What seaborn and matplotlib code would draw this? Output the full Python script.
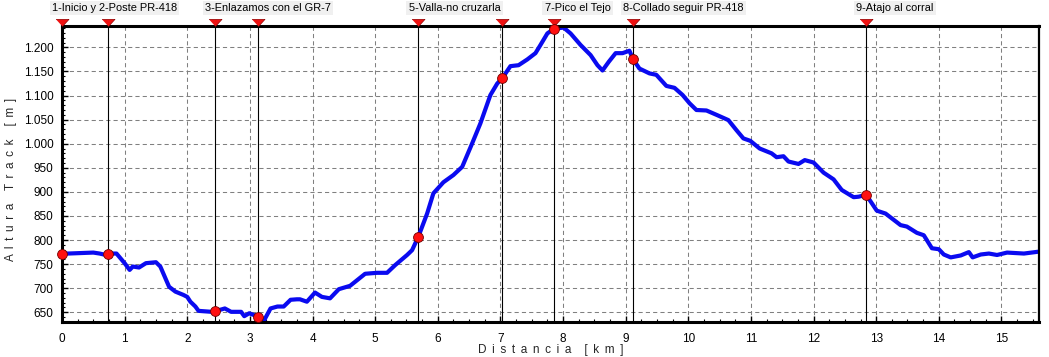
import matplotlib
matplotlib.use("Agg")
import matplotlib.pyplot as plt
import seaborn as sns
import pandas as pd
from matplotlib.ticker import MultipleLocator

# ---- data ----
distance_km = [0, 0.1, 0.3, 0.5, 0.6, 0.7, 0.75, 0.87, 1.0, 1.08, 1.13, 1.23, 1.34, 1.5, 1.57,
               1.71, 1.81, 1.94, 2.0, 2.05, 2.13, 2.18, 2.39, 2.44, 2.6, 2.7, 2.86, 2.91, 2.99,
               3.13, 3.18, 3.23, 3.33, 3.44, 3.54, 3.65, 3.75, 3.8, 3.91, 4.04, 4.15, 4.28,
               4.42, 4.6, 4.84, 5.03, 5.19, 5.32, 5.51, 5.59, 5.69, 5.83, 5.93, 6.09, 6.25,
               6.39, 6.55, 6.68, 6.84, 6.95, 7.03, 7.16, 7.29, 7.43, 7.56, 7.64, 7.75, 7.86,
               8.01, 8.12, 8.28, 8.44, 8.55, 8.63, 8.73, 8.84, 8.95, 9.06, 9.12, 9.22, 9.38,
               9.49, 9.65, 9.78, 9.91, 10.02, 10.13, 10.29, 10.45, 10.64, 10.77, 10.88, 10.99,
               11.14, 11.33, 11.41, 11.52, 11.6, 11.76, 11.86, 12.0, 12.16, 12.32, 12.45,
               12.64, 12.72, 12.84, 13.01, 13.15, 13.39, 13.49, 13.65, 13.76, 13.89, 14.0,
               14.08, 14.19, 14.35, 14.48, 14.54, 14.67, 14.8, 14.93, 15.09, 15.36, 15.6]
altitude_m = [772, 772, 773, 774, 772, 769, 772, 772, 752, 738, 745, 743, 752, 754, 745,
              703, 693, 686, 682, 672, 662, 653, 651, 652, 658, 651, 651, 642, 648,
              641, 633, 634, 658, 662, 662, 676, 677, 677, 672, 691, 682, 679,
              698, 705, 730, 732, 732, 748, 769, 779, 807, 855, 897, 920, 935,
              952, 1001, 1042, 1101, 1125, 1136, 1161, 1163, 1175, 1188, 1205, 1229, 1239,
              1241, 1229, 1205, 1184, 1163, 1152, 1170, 1188, 1188, 1193, 1175, 1156, 1146,
              1143, 1120, 1116, 1101, 1084, 1070, 1069, 1060, 1049, 1028, 1011, 1006,
              990, 980, 972, 974, 963, 958, 966, 961, 940, 926, 904,
              889, 890, 894, 861, 855, 831, 828, 815, 810, 783, 781,
              770, 764, 768, 775, 764, 770, 772, 769, 774, 772, 776]

waypoint_km = [0, 0.74, 2.44, 3.13, 5.69, 7.03, 7.86, 9.12, 12.84]
waypoint_alt = [772, 772, 652, 641, 807, 1136, 1239, 1175, 894]
waypoint_label = ["1-Inicio y", "2-Poste PR-418", "3-Enlazamos con el GR-7", "",
                  "5-Valla-no cruzarla", "", "7-Pico el Tejo", "8-Collado seguir PR-418",
                  "9-Atajo al corral"]

x_ticks = list(range(0, 16))
x_tick_labels = [str(v) for v in x_ticks]
y_ticks = [650, 700, 750, 800, 850, 900, 950, 1000, 1050, 1100, 1150, 1200]
y_tick_labels = ["650", "700", "750", "800", "850", "900", "950", "1.000", "1.050",
                 "1.100", "1.150", "1.200"]

x_title = "Distancia [km]"
y_title = "Altura Track [m]"


def spaced(s):
    # wide letter spacing as in the original chart
    words = s.split(" ")
    return "    ".join(" \u2009".join(w) for w in words)


# ---- drawing ----
sns.set_style("white")
plt.rcParams["font.family"] = ["Liberation Sans", "DejaVu Sans"]

W, H = 1049, 357
fig = plt.figure(figsize=(W / 100, H / 100), dpi=100)
left, right, top, bottom = 62, 1039, 25.7, 321.7
ax_h = bottom - top
ax = fig.add_axes([left / W, 1 - bottom / H, (right - left) / W, ax_h / H])

profile = pd.DataFrame({"km": distance_km, "alt": altitude_m})
wps = pd.DataFrame({"km": waypoint_km, "alt": waypoint_alt})

ax.set_xlim(0, 15.6)
ax.set_ylim(630.5, 1245)

for k in waypoint_km:
    ax.axvline(k, color="black", lw=0.8, zorder=2)

sns.lineplot(data=profile, x="km", y="alt", ax=ax, color="#0a0af0", lw=3.0,
             sort=False, estimator=None, zorder=3)
sns.scatterplot(data=wps, x="km", y="alt", ax=ax, color="#ff1010", edgecolor="#700000",
                linewidth=0.6, s=50, zorder=7, clip_on=False)

tri = [(-1, 1.1), (1, 1.1), (0, 0)]
ax.plot(waypoint_km, [1.0] * len(waypoint_km), transform=ax.get_xaxis_transform(),
        linestyle="none", marker=tri, markersize=10.3, markerfacecolor="#ee1111",
        markeredgecolor="#900000", markeredgewidth=0.5, clip_on=False, zorder=6)

for k, lab in zip(waypoint_km, waypoint_label):
    if lab:
        ax.annotate(lab, xy=(k, 1.0), xycoords=ax.get_xaxis_transform(),
                    xytext=(-7, 12.6), textcoords="offset points", ha="left", va="center",
                    fontsize=7.9, color="black", annotation_clip=False,
                    bbox=dict(boxstyle="square,pad=0.2", facecolor="#f0f0f0",
                              edgecolor="none"))

ax.set_xticks(x_ticks)
ax.set_xticklabels(x_tick_labels)
ax.set_yticks(y_ticks)
ax.set_yticklabels(y_tick_labels)
ax.xaxis.set_minor_locator(MultipleLocator(0.25))
ax.yaxis.set_minor_locator(MultipleLocator(10))
ax.tick_params(axis="both", which="major", direction="in", length=4, width=1,
               labelsize=8.5, colors="black")
ax.tick_params(axis="x", which="major", pad=8)
ax.tick_params(axis="y", which="major", pad=6)
ax.tick_params(axis="both", which="minor", direction="in", length=2.5, width=0.8,
               colors="black")
ax.tick_params(axis="x", which="both", bottom=True, top=False)
ax.tick_params(axis="y", which="both", left=True, right=False)

ax.grid(True, which="major", color="#808080", lw=0.75, linestyle=(0, (4, 3)))
ax.set_axisbelow(True)

for name, sp in ax.spines.items():
    sp.set_visible(True)
    sp.set_color("black")
    sp.set_linewidth(2.2 if name != "right" else 1.6)
    sp.set_zorder(5)

ax.set_xlabel(spaced(x_title), fontsize=8.5)
ax.xaxis.set_label_coords(0.5, -(343.5 - bottom) / ax_h)
ax.set_ylabel(spaced(y_title), fontsize=8.5, labelpad=0)
ax.yaxis.set_label_coords(-(left - 17) / (right - left), 0.48)

fig.savefig("out.png", dpi=100, facecolor="white")
